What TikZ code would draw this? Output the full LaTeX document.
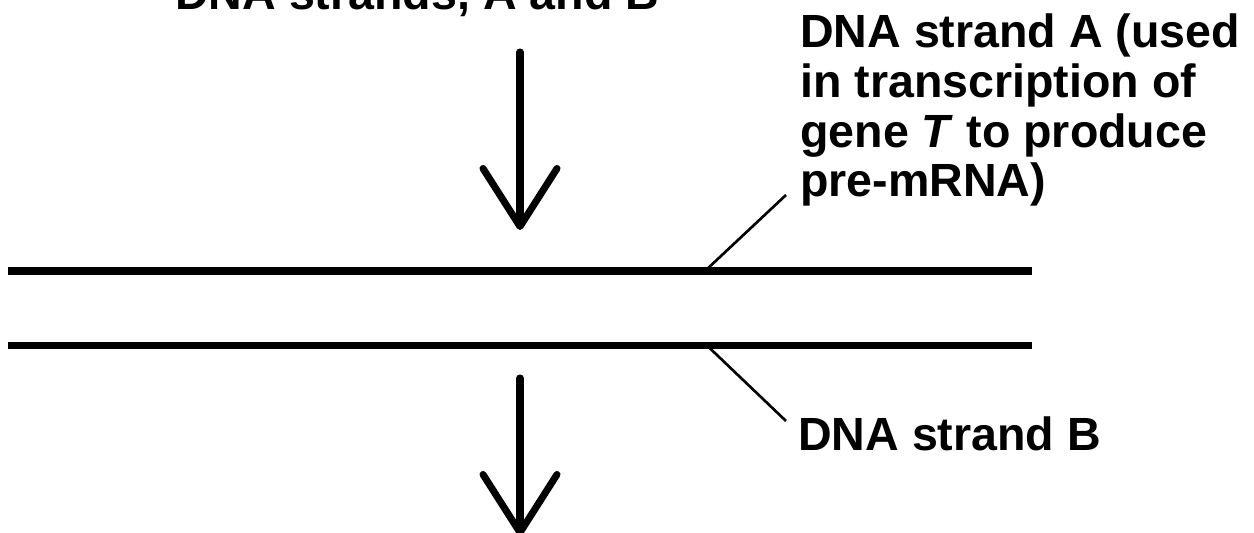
\documentclass[tikz,border=0pt]{standalone}
\usepackage{fontspec}
\setmainfont{Liberation Sans}
\usetikzlibrary{arrows.meta}
\tikzset{strand/.style={line width=4.5pt},
    leader/.style={line width=1.5pt},
    flow/.style={line width=4pt, line cap=round,
        -{Straight Barb[length=1.16cm,width=1.48cm,round]}},
    every node/.style={inner sep=0pt, font=\fontsize{26.5}{28.45}\selectfont\bfseries},
    }
\begin{document}
\begin{tikzpicture}[x=0.02cm,y=-0.02cm]
	\useasboundingbox (0,0) rectangle (1254,533);
	% the two strands
	\draw[strand] (8,271) -- (1032,271);
	\draw[strand] (8,345.5) -- (1032,345.5);
	\coordinate (onA) at (705,271);
	\coordinate (onB) at (707,345.5);
	% labels
	\node[anchor=base west] (both) at (175,10) {DNA strands, A and B};
	\node[anchor=base west, align=left] (labA) at (800,197)
		{DNA strand A (used\\in transcription of\\gene \textit{T} to produce\\pre-mRNA)};
	\node[anchor=base west] (labB) at (798,450) {DNA strand B};
	% arrows
	\coordinate (inTop) at (520,52);
	\coordinate (inTip) at (520,230);
	\coordinate (outTop) at (520,378);
	\coordinate (outTip) at (520,536);
	\draw[flow] (inTop) -- (inTip);
	\draw[flow] (outTop) -- (outTip);
	% leaders
	\coordinate (endA) at (786,195);
	\coordinate (endB) at (786,421);
	\draw[leader] (onA) -- (endA);
	\draw[leader] (onB) -- (endB);
\end{tikzpicture}
\end{document}
